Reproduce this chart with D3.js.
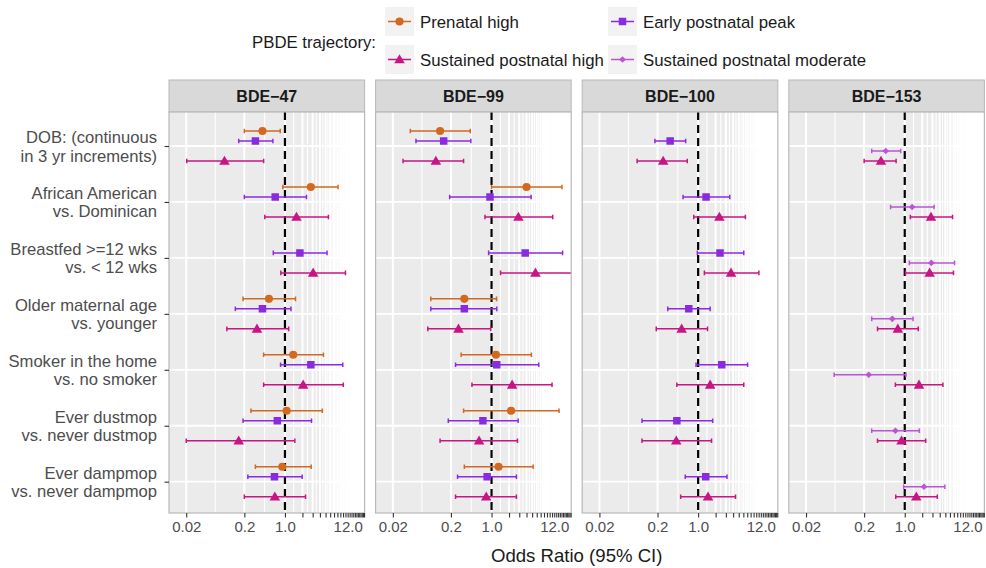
<!DOCTYPE html>
<html>
<head>
<meta charset="utf-8">
<script src="https://cdn.jsdelivr.net/npm/d3@7"></script>
<style>
  body { margin: 0; background: #fff; }
  text { font-family: "Liberation Sans", Arial, sans-serif; }
</style>
</head>
<body>
<div id="chart"></div>
<script>
var width = 986
var height = 568

// row labels (two lines each), top to bottom
const categories = [
  ["DOB: (continuous", "in 3 yr increments)"],
  ["African American", "vs. Dominican"],
  ["Breastfed >=12 wks", "vs. < 12 wks"],
  ["Older maternal age", "vs. younger"],
  ["Smoker in the home", "vs. no smoker"],
  ["Ever dustmop", "vs. never dustmop"],
  ["Ever dampmop", "vs. never dampmop"]
]
const panels = ["BDE\u221247", "BDE\u221299", "BDE\u2212100", "BDE\u2212153"]
const trajectories = ["Prenatal high", "Early postnatal peak", "Sustained postnatal high", "Sustained postnatal moderate"]
// vertical stacking order inside one row
const dodgeOrder = ["Prenatal high", "Early postnatal peak", "Sustained postnatal moderate", "Sustained postnatal high"]
const colors = ["#d2691e", "#8a2be2", "#c71585", "#ba55d3"]

const tickValues = [0.02, 0.2, 1, 2, 3, 4, 5, 6, 7, 8, 9, 10, 11, 12, 13, 14, 15, 16, 17, 18, 19, 20, 21, 22, 23]
const tickLabels = {0.02: "0.02", 0.2: "0.2", 1: "1.0", 12: "12.0"}

// [odds ratio, lower, upper] per row; null = not estimated
const bde47_prenatal = [[0.41,0.20,0.83],[2.79,0.92,8.2],null,[0.53,0.19,1.52],[1.39,0.43,4.6],[1.07,0.26,4.4],[0.90,0.31,2.83]]
const bde47_early = [[0.31,0.16,0.62],[0.68,0.20,2.35],[1.81,0.63,5.3],[0.41,0.14,1.27],[2.79,0.84,9.9],[0.74,0.19,2.87],[0.66,0.23,1.98]]
const bde47_sustHigh = [[0.091,0.0204,0.43],[1.58,0.45,5.6],[3.06,0.85,11.0],[0.33,0.10,1.16],[2.06,0.43,10.1],[0.16,0.02,1.48],[0.67,0.20,2.26]]

const bde99_prenatal = [[0.13,0.040,0.43],[4.0,1.0,16.3],null,[0.34,0.09,1.22],[1.19,0.30,4.85],[2.17,0.33,14.5],[1.32,0.34,5.2]]
const bde99_early = [[0.15,0.050,0.44],[0.94,0.19,4.8],[3.8,0.89,16.7],[0.34,0.09,1.23],[1.23,0.24,6.5],[0.71,0.18,2.87],[0.84,0.26,2.68]]
const bde99_sustHigh = [[0.11,0.030,0.33],[2.9,0.77,11.3],[5.7,1.43,30],[0.27,0.080,0.97],[2.26,0.46,11.0],[0.61,0.13,2.79],[0.81,0.24,2.68]]

const bde100_early = [[0.33,0.18,0.61],[1.37,0.55,3.5],[2.38,0.97,6.1],[0.69,0.30,1.61],[2.55,0.92,7.1],[0.43,0.108,1.78],[1.35,0.60,3.14]]
const bde100_sustHigh = [[0.25,0.089,0.65],[2.32,0.84,6.5],[3.68,1.28,11.1],[0.52,0.19,1.45],[1.61,0.43,6.1],[0.42,0.108,1.70],[1.48,0.50,4.4]]

const bde153_moderate = [[0.47,0.27,0.85],[1.34,0.57,3.2],[2.87,1.20,7.2],[0.61,0.27,1.39],[0.24,0.061,1.05],[0.69,0.27,1.78],[2.14,0.96,4.9]]
const bde153_sustHigh = [[0.39,0.20,0.71],[2.83,1.25,6.65],[2.68,1.03,6.9],[0.76,0.34,1.71],[1.76,0.69,4.54],[0.88,0.34,2.29],[1.58,0.70,3.63]]

const panelSeries = [
  [["Prenatal high", bde47_prenatal], ["Early postnatal peak", bde47_early], ["Sustained postnatal high", bde47_sustHigh]],
  [["Prenatal high", bde99_prenatal], ["Early postnatal peak", bde99_early], ["Sustained postnatal high", bde99_sustHigh]],
  [["Early postnatal peak", bde100_early], ["Sustained postnatal high", bde100_sustHigh]],
  [["Sustained postnatal moderate", bde153_moderate], ["Sustained postnatal high", bde153_sustHigh]]
]

var panelLeft = 169
var panelW = 195.6
var panelStep = 206.6
var panelTop = 112
var panelBottom = 513
var stripTop = 80

var svg = d3.select("#chart").append("svg")
  .attr("width", width)
  .attr("height", height)
  .style("background", "#fff")

const x = d3.scaleLog().domain([0.0101, 23.5]).range([0, panelW])
const y = d3.scalePoint().domain(d3.range(categories.length)).range([146, 481.7])
const dodge = d3.scalePoint().domain(dodgeOrder).range([-15, 15])
const color = d3.scaleOrdinal().domain(trajectories).range(colors)

function shapeOf(name) {
  if (name == "Prenatal high") return d3.symbol().type(d3.symbolCircle).size(52)()
  if (name == "Early postnatal peak") return d3.symbol().type(d3.symbolSquare).size(56)()
  if (name == "Sustained postnatal high") return d3.symbol().type(d3.symbolTriangle).size(48)()
  return d3.symbol().type(d3.symbolSquare).size(22)()
}
function shapeRot(name) {
  return name == "Sustained postnatal moderate" ? " rotate(45)" : ""
}

// minor breaks: geometric midpoints between neighbouring breaks
var minor = []
for (var i = 0; i < tickValues.length - 1; i++) {
  minor.push(Math.sqrt(tickValues[i] * tickValues[i + 1]))
}
minor.unshift(Math.sqrt(0.002 * 0.02))

panels.forEach(function(p, pi) {
  var g = svg.append("g").attr("transform", "translate(" + (panelLeft + pi * panelStep) + ",0)")

  // strip
  g.append("rect").attr("x", 0).attr("y", stripTop).attr("width", panelW).attr("height", panelTop - stripTop)
    .style("fill", "#d9d9d9").style("stroke", "#b8b8b8").style("stroke-width", 1)
  g.append("text").attr("x", panelW / 2).attr("y", (stripTop + panelTop) / 2 + 5.5)
    .attr("text-anchor", "middle").style("font-weight", "bold").style("font-size", "16px")
    .style("fill", "#1a1a1a").text(p)

  g.append("clipPath").attr("id", "clip" + pi).append("rect")
    .attr("x", 0).attr("y", panelTop).attr("width", panelW).attr("height", panelBottom - panelTop)

  var inner = g.append("g").attr("clip-path", "url(#clip" + pi + ")")
  inner.append("rect").attr("x", 0).attr("y", panelTop).attr("width", panelW).attr("height", panelBottom - panelTop)
    .style("fill", "#ebebeb")

  inner.selectAll(".minor").data(minor).enter().append("line")
    .attr("x1", d => x(d)).attr("x2", d => x(d)).attr("y1", panelTop).attr("y2", panelBottom)
    .style("stroke", "#fff").style("stroke-width", 1.1)
  inner.selectAll(".major").data(tickValues).enter().append("line")
    .attr("x1", d => x(d)).attr("x2", d => x(d)).attr("y1", panelTop).attr("y2", panelBottom)
    .style("stroke", "#fff").style("stroke-width", 2)
  inner.selectAll(".hgrid").data(y.domain()).enter().append("line")
    .attr("x1", 0).attr("x2", panelW).attr("y1", d => y(d)).attr("y2", d => y(d))
    .style("stroke", "#fff").style("stroke-width", 1.8)

  // reference line at OR = 1
  inner.append("line").attr("x1", x(1)).attr("x2", x(1)).attr("y1", panelTop).attr("y2", panelBottom)
    .style("stroke", "#000").style("stroke-width", 2.2).style("stroke-dasharray", "8,5")

  panelSeries[pi].forEach(function(s) {
    var name = s[0]
    var rows = s[1].map((d, i) => d ? {row: i, or: d[0], lo: d[1], hi: d[2]} : null).filter(d => d)
    var col = color(name)
    var sg = inner.append("g")
    var eb = sg.selectAll("g.eb").data(rows).enter().append("g")
      .attr("transform", d => "translate(0," + (y(d.row) + dodge(name)) + ")")
    eb.append("line").attr("x1", d => x(d.lo)).attr("x2", d => x(d.hi))
      .style("stroke", col).style("stroke-width", 1.5)
    eb.append("line").attr("x1", d => x(d.lo)).attr("x2", d => x(d.lo)).attr("y1", -2.3).attr("y2", 2.3)
      .style("stroke", col).style("stroke-width", 1.5)
    eb.append("line").attr("x1", d => x(d.hi)).attr("x2", d => x(d.hi)).attr("y1", -2.3).attr("y2", 2.3)
      .style("stroke", col).style("stroke-width", 1.5)
    eb.append("path").attr("d", shapeOf(name))
      .attr("transform", d => "translate(" + x(d.or) + "," + (name == "Sustained postnatal high" ? 0.8 : 0) + ")" + shapeRot(name))
      .style("fill", col)
  })

  g.append("rect").attr("x", 0).attr("y", panelTop).attr("width", panelW).attr("height", panelBottom - panelTop)
    .style("fill", "none").style("stroke", "#b8b8b8").style("stroke-width", 1.2)

  var xa = g.append("g").attr("transform", "translate(0," + panelBottom + ")")
    .call(d3.axisBottom(x).tickValues(tickValues).tickSize(4.5).tickPadding(4)
      .tickFormat(d => tickLabels[d] || ""))
  xa.select(".domain").remove()
  xa.selectAll(".tick line").style("stroke", "#333").style("stroke-width", 1.1)
  xa.selectAll(".tick text").style("fill", "#4d4d4d").style("font-size", "15px")
    .style("font-family", "Liberation Sans, Arial, sans-serif")
})

// y axis with two-line labels
var ya = svg.append("g").attr("transform", "translate(" + panelLeft + ",0)")
  .call(d3.axisLeft(y).tickSize(4.5).tickFormat(""))
ya.select(".domain").remove()
ya.selectAll(".tick line").style("stroke", "#333").style("stroke-width", 1.1)
categories.forEach(function(lines, i) {
  var t = svg.append("text").attr("text-anchor", "end").style("font-size", "16.6px").style("fill", "#4d4d4d")
  t.append("tspan").attr("x", 157).attr("y", y(i) - 3).text(lines[0])
  t.append("tspan").attr("x", 157).attr("y", y(i) + 15.5).text(lines[1])
})

svg.append("text").attr("x", (panelLeft + panelLeft + 3 * panelStep + panelW) / 2).attr("y", 562)
  .attr("text-anchor", "middle").style("font-size", "18.6px").style("fill", "#1a1a1a")
  .text("Odds Ratio (95% CI)")

// legend
var legend = svg.append("g")
legend.append("text").attr("x", 252).attr("y", 48).style("font-size", "16.8px").style("fill", "#1a1a1a")
  .text("PBDE trajectory:")
var legendPos = [[385, 7], [608, 7], [385, 45], [608, 45]]
trajectories.forEach(function(name, i) {
  var lg = legend.append("g").attr("transform", "translate(" + legendPos[i][0] + "," + legendPos[i][1] + ")")
  lg.append("rect").attr("width", 29).attr("height", 29).style("fill", "#f2f2f2")
  lg.append("line").attr("x1", 3).attr("x2", 26).attr("y1", 14.5).attr("y2", 14.5)
    .style("stroke", color(name)).style("stroke-width", 1.5)
  lg.append("path").attr("d", shapeOf(name))
    .attr("transform", "translate(14.5," + (name == "Sustained postnatal high" ? 15.3 : 14.5) + ")" + shapeRot(name))
    .style("fill", color(name))
  lg.append("text").attr("x", 35).attr("y", 20.5).style("font-size", "16.8px").style("fill", "#1a1a1a").text(name)
})
</script>
</body>
</html>
